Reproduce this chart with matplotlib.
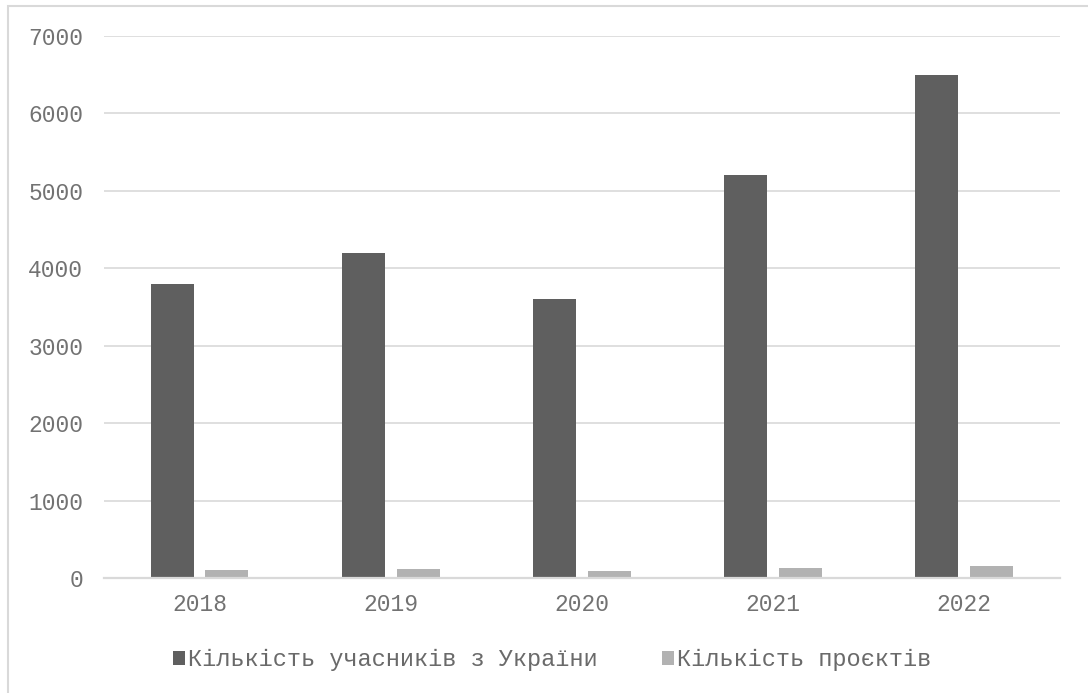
import numpy as np
import matplotlib.pyplot as plt
from matplotlib.patches import Rectangle

# Participants from Ukraine and number of projects per year
years = ["2018", "2019", "2020", "2021", "2022"]
participants = [3800, 4200, 3600, 5200, 6500]
projects = [100, 120, 90, 130, 150]

labels = ["Кількість учасників з України", "Кількість проєктів"]
colors = ["#5f5f5f", "#b2b2b2"]

plt.rcParams["font.family"] = ["Liberation Mono", "DejaVu Sans"]

fig = plt.figure(figsize=(10.88, 6.93), dpi=100)
ax = fig.add_axes([0.0956, 0.166, 0.8785, 0.782])

x = np.arange(len(years))
w = 0.225
ax.bar(x - 0.143, participants, w, color=colors[0], label=labels[0], zorder=3)
ax.bar(x + 0.143, projects, w, color=colors[1], label=labels[1], zorder=3)

ax.set_xlim(-0.5, len(years) - 0.5)
ax.set_ylim(0, 7000)
ax.set_yticks(range(0, 7001, 1000))
ax.set_xticks(x)
ax.set_xticklabels(years)

ax.grid(axis="y", color="#d9d9d9", linewidth=1.2, zorder=0)
for s in ["top", "right", "left"]:
    ax.spines[s].set_visible(False)
ax.spines["bottom"].set_color("#d9d9d9")
ax.spines["bottom"].set_linewidth(1.6)
ax.spines["bottom"].set_zorder(4)

ax.tick_params(axis="both", length=0, labelsize=16.5, labelcolor="#727272")
ax.tick_params(axis="y", pad=15)
ax.tick_params(axis="x", pad=11)

ax.legend(loc="center", bbox_to_anchor=(0.469, -0.151), ncol=2, frameon=False,
          fontsize=17, labelcolor="#6a6a6a", handlelength=0.5, handleheight=0.5,
          handletextpad=0.15, columnspacing=2.7)

# light outer border around the chart
fig.patches.append(Rectangle((8 / 1088, -0.1), 2, 1 - 6 / 693 + 0.1,
                             transform=fig.transFigure, fill=False,
                             edgecolor="#d9d9d9", linewidth=1.5))

fig.savefig("out.png", dpi=100)
